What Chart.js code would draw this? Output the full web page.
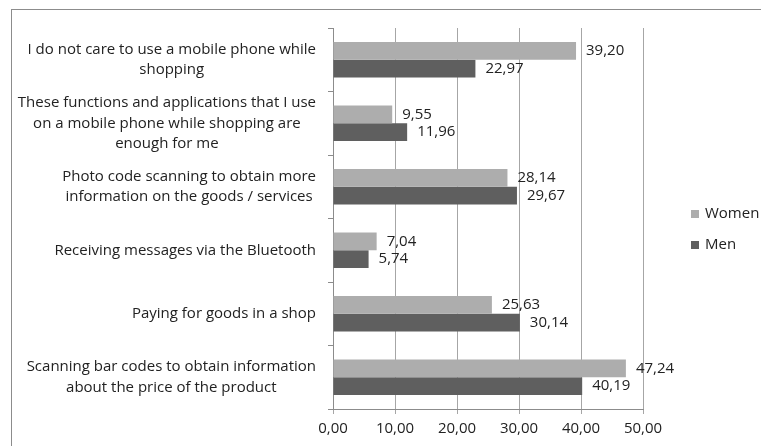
<!DOCTYPE html>
<html lang="en">
<head>
<meta charset="UTF-8">
<title>Mobile phone functions used while shopping</title>
<script src="https://cdn.jsdelivr.net/npm/chart.js"></script>
<style>
    body {
        margin: 0;
        background: #ffffff;
        overflow: hidden;
    }
    .marco {
        position: absolute;
        left: 11px;
        top: 9px;
        width: 760px;
        height: 440px;
        border-top: 1px solid #8c8c8c;
        border-left: 1px solid #8c8c8c;
    }
    canvas {
        position: absolute;
        left: 0;
        top: 0;
    }
</style>
</head>
<body>
<div class="marco"></div>
<canvas id="grafico" width="761" height="446"></canvas>

<script>
    // categorias (de arriba hacia abajo), cada una partida en lineas
    const categorias = [
        ['I do not care to use a mobile phone while', 'shopping'],
        ['These functions and applications that I use', 'on a mobile phone while shopping are', 'enough for me'],
        ['Photo code scanning to obtain more', 'information on the goods / services'],
        ['Receiving messages via the Bluetooth'],
        ['Paying for goods in a shop'],
        ['Scanning bar codes to obtain information', 'about the price of the product']
    ];
    const mujeres = [39.20, 9.55, 28.14, 7.04, 25.63, 47.24];
    const hombres = [22.97, 11.96, 29.67, 5.74, 30.14, 40.19];
    const ticksX = [0, 10, 20, 30, 40, 50];

    const fuente = "'Open Sans', sans-serif";
    const colorTexto = '#222222';

    const coma = v => v.toFixed(2).replace('.', ',');

    // etiquetas del eje Y: bloque alineado a la derecha, lineas centradas
    const etiquetasY = {
        id: 'etiquetasY',
        afterDraw(chart) {
            const ctx = chart.ctx;
            const y = chart.scales.y;
            const borde = y.right - 17;
            const alto = 20.5;
            ctx.save();
            ctx.font = '15px ' + fuente;
            ctx.fillStyle = colorTexto;
            ctx.textAlign = 'center';
            ctx.textBaseline = 'middle';
            categorias.forEach((lineas, i) => {
                const centro = y.getPixelForTick(i);
                const ancho = Math.max(...lineas.map(l => ctx.measureText(l).width));
                const cx = borde - ancho / 2;
                const y0 = centro - (lineas.length - 1) * alto / 2;
                lineas.forEach((l, j) => ctx.fillText(l, cx, y0 + j * alto));
            });
            ctx.restore();
        }
    };

    // valores al final de cada barra
    const valores = {
        id: 'valores',
        afterDatasetsDraw(chart) {
            const ctx = chart.ctx;
            ctx.save();
            ctx.font = '15px ' + fuente;
            ctx.fillStyle = colorTexto;
            ctx.textAlign = 'left';
            ctx.textBaseline = 'middle';
            chart.data.datasets.forEach((ds, d) => {
                chart.getDatasetMeta(d).data.forEach((barra, i) => {
                    ctx.fillText(coma(ds.data[i]), barra.x + 10, barra.y);
                });
            });
            ctx.restore();
        }
    };

    // leyenda a la derecha
    const leyenda = {
        id: 'leyenda',
        afterDraw(chart) {
            const ctx = chart.ctx;
            const area = chart.chartArea;
            const x = area.right + 48;
            const yIni = 214;
            ctx.save();
            ctx.font = '15px ' + fuente;
            ctx.textBaseline = 'middle';
            chart.data.datasets.forEach((ds, i) => {
                const yy = yIni + i * 31;
                ctx.fillStyle = ds.backgroundColor;
                ctx.fillRect(x, yy - 4, 8, 8);
                ctx.fillStyle = colorTexto;
                ctx.fillText(ds.label, x + 14, yy);
            });
            ctx.restore();
        }
    };

    new Chart(document.getElementById('grafico'), {
        type: 'bar',
        data: {
            labels: categorias.map(c => c.join(' ')),
            datasets: [
                { label: 'Women', data: mujeres, backgroundColor: '#adadad' },
                { label: 'Men', data: hombres, backgroundColor: '#5f5f5f' }
            ]
        },
        options: {
            indexAxis: 'y',
            responsive: false,
            animation: false,
            categoryPercentage: 0.56,
            barPercentage: 1,
            layout: { padding: { top: 28, right: 118, bottom: 0, left: 0 } },
            plugins: {
                legend: { display: false },
                tooltip: { enabled: false }
            },
            scales: {
                x: {
                    min: 0,
                    max: 50,
                    afterBuildTicks: s => { s.ticks = ticksX.map(v => ({ value: v })); },
                    afterFit: s => { s.height = 37; },
                    grid: { color: '#a6a6a6', tickLength: 5, drawTicks: true },
                    border: { color: '#8c8c8c' },
                    ticks: {
                        padding: 6,
                        color: colorTexto,
                        font: { family: fuente, size: 15 },
                        callback: v => coma(v)
                    }
                },
                y: {
                    afterFit: s => { s.width = 333; },
                    grid: { drawOnChartArea: false, drawTicks: true, tickLength: 5, color: '#8c8c8c', offset: true },
                    border: { color: '#8c8c8c' },
                    ticks: { display: false }
                }
            }
        },
        plugins: [etiquetasY, valores, leyenda]
    });
</script>
</body>
</html>
